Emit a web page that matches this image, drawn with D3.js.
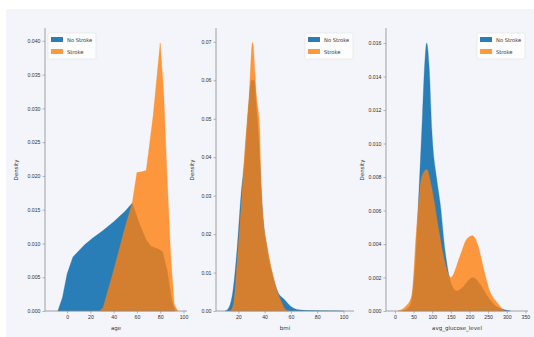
<!DOCTYPE html>
<html>
<head>
<meta charset="utf-8">
<script src="https://cdn.jsdelivr.net/npm/d3@7"></script>
<style>
  body { margin: 0; background: #fff; }
  svg { display: block; font-family: "DejaVu Sans", sans-serif; }
</style>
</head>
<body>
<svg id="chart" width="534" height="337"></svg>
<script>
// series labels
const groups = ["No Stroke", "Stroke"];

// age density: [age, density]
const ageNoStroke = [[-8,0],[-4,0.002],[0,0.0055],[5,0.008],[15,0.0098],[22,0.0108],[30,0.0118],[40,0.0132],[50,0.0148],[56,0.016],[62,0.013],[68,0.0105],[72,0.0096],[78,0.0092],[82,0.0088],[86,0.006],[90,0.0015],[93,0]];
const ageStroke = [[28,0],[31,0.0005],[40,0.006],[50,0.0125],[56,0.016],[60,0.0205],[64,0.0206],[68,0.0208],[74,0.029],[80,0.0397],[83,0.032],[86,0.0194],[89,0.008],[92,0.001],[95,0]];

// bmi density
const bmiNoStroke = [[10,0],[13,0.001],[16,0.0055],[19,0.016],[22,0.03],[25,0.04],[28,0.054],[30,0.06],[32,0.06],[34,0.052],[36,0.042],[38,0.028],[42,0.016],[46,0.0095],[50,0.005],[55,0.003],[60,0.0012],[66,0.0003],[75,0.0001],[100,0]];
const bmiStroke = [[14,0],[16.6,0.0023],[19.1,0.0127],[22.4,0.0283],[25,0.042],[28.2,0.0558],[30.8,0.0698],[33.8,0.0558],[36.3,0.047],[36.8,0.0386],[38.8,0.0246],[41.9,0.0168],[45.2,0.0109],[49,0.0057],[52.8,0.0023],[56,0.0003],[58,0]];

// avg_glucose_level density
const gluNoStroke = [[20,0],[40,0.0003],[55,0.003],[63,0.0065],[72,0.0108],[80,0.0148],[85,0.016],[92,0.0145],[99,0.0108],[112,0.0079],[121,0.0065],[135,0.0035],[150,0.0017],[165,0.0012],[185,0.0015],[200,0.0019],[210,0.002],[225,0.0017],[245,0.001],[265,0.0004],[290,0.0001],[310,0]];
const gluStroke = [[8,0],[30,0.0003],[45,0.0009],[58,0.0049],[72,0.008],[85,0.00845],[99,0.0073],[117,0.0049],[134,0.0029],[150,0.002],[175,0.0033],[193,0.0043],[208,0.0045],[223,0.0039],[238,0.0025],[256,0.0011],[274,0.0005],[294,0]];

const xTicksAge = [0, 20, 40, 60, 80, 100];
const yTicksAge = [0, 0.005, 0.01, 0.015, 0.02, 0.025, 0.03, 0.035, 0.04];
const xTicksBmi = [20, 40, 60, 80, 100];
const yTicksBmi = [0, 0.01, 0.02, 0.03, 0.04, 0.05, 0.06, 0.07];
const xTicksGlu = [0, 50, 100, 150, 200, 250, 300, 350];
const yTicksGlu = [0, 0.002, 0.004, 0.006, 0.008, 0.01, 0.012, 0.014, 0.016];

const colors = ["#1f77b4", "#ff7f0e"];
const bg = "#f4f5fa";

const svg = d3.select("#chart");
svg.append("rect").attr("x", 0).attr("y", 0).attr("width", 534).attr("height", 337).attr("fill", "#fff");
svg.append("rect").attr("x", 6).attr("y", 9).attr("width", 528).attr("height", 328).attr("fill", bg);

const panels = [
  { xl: "age", left: 45, right: 187, xd: [-19, 103], yd: [0, 0.0419], xt: xTicksAge, yt: yTicksAge, yf: ".3f",
    series: [ageNoStroke, ageStroke], curve: d3.curveLinear, legendX: 48, labelX: 18 },
  { xl: "bmi", left: 216, right: 354, xd: [3, 108], yd: [0, 0.0736], xt: xTicksBmi, yt: yTicksBmi, yf: ".2f",
    series: [bmiNoStroke, bmiStroke], curve: d3.curveMonotoneX, legendX: 305, labelX: 194 },
  { xl: "avg_glucose_level", left: 386, right: 528, xd: [-24, 357], yd: [0, 0.0169], xt: xTicksGlu, yt: yTicksGlu, yf: ".3f",
    series: [gluNoStroke, gluStroke], curve: d3.curveMonotoneX, legendX: 477, labelX: 364 }
];

const plotTop = 28, plotBottom = 311;

panels.forEach(p => {
  const x = d3.scaleLinear().domain(p.xd).range([p.left, p.right]);
  const y = d3.scaleLinear().domain(p.yd).range([plotBottom, plotTop]);
  const g = svg.append("g");

  const area = d3.area()
    .curve(p.curve)
    .x(d => x(d[0]))
    .y0(y(0))
    .y1(d => y(d[1]));

  p.series.forEach((s, i) => {
    g.append("path")
      .datum(s)
      .attr("d", area)
      .attr("fill", colors[i])
      .attr("fill-opacity", i === 0 ? 0.95 : 0.8)
      .attr("stroke", colors[i])
      .attr("stroke-opacity", 0.6)
      .attr("stroke-width", 0.5);
  });

  // axes
  const xAxis = g.append("g")
    .attr("transform", `translate(0,${plotBottom})`)
    .call(d3.axisBottom(x).tickValues(p.xt).tickSize(2.5).tickPadding(2).tickSizeOuter(0));
  const yAxis = g.append("g")
    .attr("transform", `translate(${p.left},0)`)
    .call(d3.axisLeft(y).tickValues(p.yt).tickFormat(d3.format(p.yf)).tickSize(2.5).tickPadding(2).tickSizeOuter(0));

  [xAxis, yAxis].forEach(a => {
    a.select(".domain").attr("stroke", "#8a8a8a").attr("stroke-width", 0.8);
    a.selectAll(".tick line").attr("stroke", "#8a8a8a").attr("stroke-width", 0.6);
    a.selectAll(".tick text").attr("fill", "#333").attr("font-size", 5.2);
  });
  // full-height spines
  yAxis.select(".domain").attr("d", `M0,${plotBottom}V${plotTop}`);
  xAxis.select(".domain").attr("d", `M${p.left},0H${p.right}`);

  g.append("text")
    .attr("x", (p.left + p.right) / 2)
    .attr("y", 330)
    .attr("text-anchor", "middle")
    .attr("font-size", 5.5)
    .attr("fill", "#333")
    .text(p.xl);

  g.append("text")
    .attr("transform", `translate(${p.labelX},170) rotate(-90)`)
    .attr("text-anchor", "middle")
    .attr("font-size", 5.5)
    .attr("fill", "#333")
    .text("Density");

  // legend
  const lg = g.append("g").attr("transform", `translate(${p.legendX},33)`);
  lg.append("rect")
    .attr("width", 48).attr("height", 26).attr("rx", 1.5)
    .attr("fill", "#fff").attr("fill-opacity", 0.8)
    .attr("stroke", "#ddd").attr("stroke-width", 0.5);
  groups.forEach((name, i) => {
    lg.append("rect")
      .attr("x", 3).attr("y", 4 + i * 12)
      .attr("width", 12).attr("height", 5)
      .attr("fill", colors[i])
      .attr("fill-opacity", i === 0 ? 0.95 : 0.8);
    lg.append("text")
      .attr("x", 19).attr("y", 8.5 + i * 12)
      .attr("font-size", 5.2)
      .attr("fill", "#333")
      .text(name);
  });
});
</script>
</body>
</html>
